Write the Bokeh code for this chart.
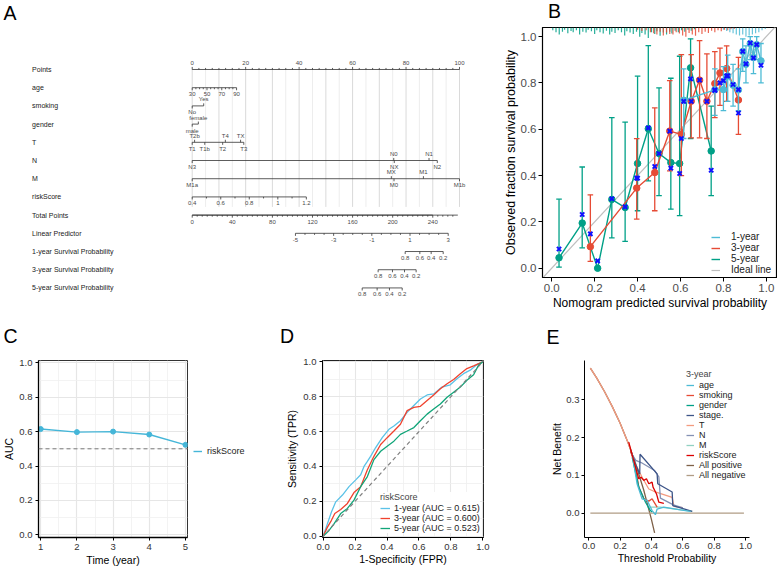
import math
from bokeh.plotting import figure
from bokeh.layouts import row, column
from bokeh.models import (Range1d, Legend, LegendItem, Slope, Span,
                          FixedTicker, NumeralTickFormatter)
from bokeh.core.properties import value
from bokeh.embed import file_html
from bokeh.resources import INLINE

FONT = "Liberation Sans"
C1, C3, C5 = "#4DBBD5", "#E64B35", "#00A087"

# ---------------- A: nomogram ----------------
row_names = ["Points", "age", "smoking", "gender", "T", "N", "M", "riskScore",
             "Total Points", "Linear Predictor", "1-year Survival Probability",
             "3-year Survival Probability", "5-year Survival Probability"]

points_labels = [0, 20, 40, 60, 80, 100]
age_labels = [30, 50, 70, 90]
age_points = [0.0, 5.53, 11.06, 16.6]
smoking_levels = ["No", "Yes"]
smoking_points = [0.0, 4.3]
smoking_side = [1, -1]
gender_levels = ["male", "female"]
gender_points = [0.0, 2.3]
gender_side = [1, -1]
T_levels = ["T1", "T2b", "T1b", "T2", "T4", "TX", "T3"]
T_points = [0.0, 0.9, 4.7, 11.4, 12.4, 18.1, 19.3]
T_side = [1, -1, 1, 1, -1, -1, 1]
N_levels = ["N3", "N0", "NX", "N1", "N2"]
N_points = [0.0, 75.4, 75.6, 88.6, 91.7]
N_side = [1, -1, 1, -1, 1]
M_levels = ["M1a", "MX", "M0", "M1", "M1b"]
M_points = [0.0, 74.5, 75.5, 86.5, 100.0]
M_side = [1, -1, 1, -1, 1]
risk_labels = ["0.4", "0.6", "0.8", "1", "1.2"]
risk_points = [0.0, 10.68, 21.35, 32.03, 42.7]
total_labels = [0, 40, 80, 120, 160, 200, 240]
total_max = 265
lp_labels = [-5, -3, -1, 1, 3]
lp_total = [103.0, 141.1, 179.2, 217.3, 255.4]
surv_labels = [0.8, 0.6, 0.4, 0.2]
surv1_total = [212.5, 227.1, 238.4, 250.4]
surv3_total = [185.5, 199.8, 211.8, 223.4]
surv5_total = [169.6, 184.5, 196.8, 209.5]
PTS_PER_TOTAL = 90.0 / 240.0


def bare_fig(**kw):
    return figure(output_backend="svg", toolbar_location=None, **kw)


def blank_fig(width, height, xr, yr):
    p = bare_fig(width=width, height=height, x_range=Range1d(*xr), y_range=Range1d(*yr),
                 x_axis_location=None, y_axis_location=None, min_border=0,
                 min_border_left=0, min_border_right=0, min_border_top=0,
                 min_border_bottom=0)
    p.grid.visible = False
    p.outline_line_color = None
    return p


pA = blank_fig(500, 312, (-71.72, 115.34), (13.35, -3.79))

LINE_C = "#333333"
TXT_C = "#4a4a4a"
TICK = 0.14
OFF = 0.36


def seg(p, xs0, ys0, xs1, ys1, color=LINE_C, w=0.8):
    p.segment(x0=xs0, y0=ys0, x1=xs1, y1=ys1, line_color=color, line_width=w)


def txt(p, xs, ys, texts, size="6px", color=TXT_C, align="center"):
    p.text(x=xs, y=ys, text=texts, text_font=value(FONT), text_font_size=size,
           text_color=color, text_align=align, text_baseline="middle")


def nomo_row(r, xs, labels, sides, minor=(), minor_side=1):
    seg(pA, [min(xs)], [r], [max(xs)], [r])
    seg(pA, xs, [r] * len(xs), xs, [r + s * TICK for s in sides])
    if minor:
        seg(pA, list(minor), [r] * len(minor), list(minor),
            [r + minor_side * TICK * 0.6] * len(minor))
    txt(pA, xs, [r + s * OFF for s in sides], [str(l) for l in labels])


# vertical reference lines across the predictor rows
grid_major = [float(v) for v in range(0, 101, 10)]
grid_minor = [float(v) for v in range(5, 100, 10)]
pA.segment(x0=grid_minor, y0=[0] * len(grid_minor), x1=grid_minor,
           y1=[7.55] * len(grid_minor), line_color="#EDEDED", line_width=1)
pA.segment(x0=grid_major, y0=[0] * len(grid_major), x1=grid_major,
           y1=[7.55] * len(grid_major), line_color="#DADADA", line_width=1)

txt(pA, [-59.9] * len(row_names), list(range(len(row_names))), row_names,
    size="7px", color="#1a1a1a", align="left")
txt(pA, [-70.6], [-3.13], ["A"], size="19.5px", color="black", align="left")

pts_minor = [v * 2.5 for v in range(41) if (v * 2.5) % 20 != 0]
nomo_row(0, [float(v) for v in points_labels], points_labels, [-1] * 6,
         minor=pts_minor, minor_side=-1)
age_minor = [a0 + (a1 - a0) * k / 4 for a0, a1 in zip(age_points[:-1], age_points[1:])
             for k in (1, 2, 3)]
nomo_row(1, age_points, age_labels, [1] * 4, minor=age_minor, minor_side=1)
nomo_row(2, smoking_points, smoking_levels, smoking_side)
nomo_row(3, gender_points, gender_levels, gender_side)
nomo_row(4, T_points, T_levels, T_side)
nomo_row(5, N_points, N_levels, N_side)
nomo_row(6, M_points, M_levels, M_side)
risk_minor = [(a + b) / 2 for a, b in zip(risk_points[:-1], risk_points[1:])]
nomo_row(7, risk_points, risk_labels, [1] * 5, minor=risk_minor, minor_side=1)
tot_x = [t * PTS_PER_TOTAL for t in total_labels]
tot_minor = [t * PTS_PER_TOTAL for t in range(0, total_max, 5) if t % 40 != 0]
seg(pA, [0.0], [8], [total_max * PTS_PER_TOTAL], [8])
nomo_row(8, tot_x, total_labels, [1] * len(tot_x), minor=tot_minor, minor_side=1)
lp_x = [t * PTS_PER_TOTAL for t in lp_total]
lp_half = [(a + b) / 2 for a, b in zip(lp_x[:-1], lp_x[1:])]
lp_minor = lp_half + [(a + m) / 2 for a, m in zip(lp_x[:-1], lp_half)] + \
    [(m + b) / 2 for m, b in zip(lp_half, lp_x[1:])]
nomo_row(9, lp_x, lp_labels, [1] * 5, minor=lp_minor, minor_side=1)
for r, tot in ((10, surv1_total), (11, surv3_total), (12, surv5_total)):
    nomo_row(r, [t * PTS_PER_TOTAL for t in tot], surv_labels, [1] * 4)


# ---------------- shared styling ----------------
def style_axes(p, size, color="#4d4d4d", xt=None, yt=None, tick=3, xfmt=True):
    for ax in (p.xaxis[0], p.yaxis[0]):
        ax.major_label_text_font = FONT
        ax.major_label_text_font_size = size
        ax.major_label_text_color = color
        ax.major_tick_in = 0
        ax.major_tick_out = tick
        ax.minor_tick_line_color = None
        ax.axis_line_color = "black"
        ax.major_tick_line_color = "black"
        ax.major_label_standoff = 2
        ax.axis_label_text_font = FONT
        ax.axis_label_text_font_style = "normal"
        ax.axis_label_text_color = "black"
    p.yaxis[0].formatter = NumeralTickFormatter(format="0.0")
    if xfmt:
        p.xaxis[0].formatter = NumeralTickFormatter(format="0.0")
    if xt is not None:
        p.xaxis[0].ticker = xt
    if yt is not None:
        p.yaxis[0].ticker = yt


def axis_titles(p, xlab, ylab, size, xs, ys, ysize=None):
    p.xaxis[0].axis_label = xlab
    p.yaxis[0].axis_label = ylab
    p.xaxis[0].axis_label_text_font_size = size
    p.yaxis[0].axis_label_text_font_size = ysize or size
    p.xaxis[0].axis_label_standoff = xs
    p.yaxis[0].axis_label_standoff = ys


def legend(items, loc, size="9px", title=None, gw=9, lh=10, spacing=0, standoff=5,
           bg=None):
    kw = dict(items=items, location=loc, label_text_font=FONT, label_text_font_size=size,
              label_text_color="#222222", glyph_width=gw, glyph_height=lh,
              label_height=lh, padding=0, margin=0, spacing=spacing,
              label_standoff=standoff, border_line_color=None)
    if bg:
        kw["background_fill_color"] = bg
    else:
        kw["background_fill_alpha"] = 0
    if title:
        kw.update(title=title, title_text_font=FONT, title_text_font_size=size,
                  title_text_font_style="normal", title_standoff=1)
    return Legend(**kw)


# strips holding the panel letters
stripB = blank_fig(277, 26, (0, 277), (26, 0))
txt(stripB, [6.5], [10.3], ["B"], size="19.5px", color="black", align="left")
stripCDE = blank_fig(777, 40, (0, 777), (40, 0))
txt(stripCDE, [3.0, 279.5, 546.0], [23.0, 23.5, 24.5], ["C", "D", "E"],
    size="19.5px", color="black", align="left")

# ---------------- B: calibration ----------------
cal1_x = [0.615, 0.760, 0.800, 0.820, 0.845, 0.870, 0.890, 0.905, 0.925, 0.940, 0.955, 0.975]
cal1_y = [0.725, 0.770, 0.771, 0.830, 0.790, 0.770, 0.935, 0.880, 0.970, 0.910, 0.965, 0.895]
cal1_lo = [0.560, 0.660, 0.680, 0.720, 0.700, 0.680, 0.850, 0.800, 0.900, 0.840, 0.900, 0.800]
cal1_hi = [0.860, 0.860, 0.870, 0.920, 0.880, 0.860, 0.990, 0.960, 1.000, 0.970, 1.000, 0.970]
cal1_bc = [0.720, 0.767, 0.810, 0.830, 0.793, 0.771, 0.936, 0.882, 0.972, 0.908, 0.965, 0.876]

cal3_x = [0.180, 0.396, 0.480, 0.550, 0.604, 0.650, 0.689, 0.723, 0.760, 0.784, 0.815, 0.870]
cal3_y = [0.093, 0.346, 0.413, 0.592, 0.578, 0.721, 0.812, 0.721, 0.797, 0.843, 0.862, 0.726]
cal3_lo = [0.030, 0.212, 0.248, 0.420, 0.400, 0.563, 0.563, 0.560, 0.650, 0.703, 0.720, 0.578]
cal3_hi = [0.317, 0.559, 0.692, 0.810, 0.922, 0.922, 0.982, 0.925, 0.935, 0.950, 0.960, 0.910]
cal3_bc = [0.148, 0.389, 0.439, 0.592, 0.560, 0.720, 0.812, 0.720, 0.770, 0.800, 0.830, 0.670]

cal5_x = [0.034, 0.142, 0.214, 0.280, 0.342, 0.400, 0.450, 0.500, 0.555, 0.596, 0.647, 0.743]
cal5_y = [0.045, 0.195, 0.000, 0.297, 0.262, 0.452, 0.602, 0.495, 0.456, 0.452, 0.865, 0.506]
cal5_lo = [0.005, 0.088, 0.000, 0.131, 0.116, 0.248, 0.377, 0.313, 0.255, 0.227, 0.560, 0.313]
cal5_hi = [0.298, 0.437, 0.000, 0.650, 0.631, 0.829, 0.961, 0.778, 0.820, 0.915, 0.990, 0.700]
cal5_bc = [0.083, 0.232, 0.032, 0.300, 0.265, 0.389, 0.606, 0.495, 0.432, 0.409, 0.817, 0.423]

ideal_x = [-0.05, 1.06]
ideal_y = [-0.05, 1.06]

rug5_x = [0.005, 0.02, 0.035, 0.05, 0.06, 0.075, 0.09, 0.10, 0.115, 0.13, 0.145, 0.16,
          0.17, 0.185, 0.20, 0.21, 0.225, 0.24, 0.255, 0.27, 0.28, 0.295, 0.31, 0.325,
          0.34, 0.35, 0.365, 0.38, 0.395, 0.41, 0.42, 0.435, 0.45, 0.465, 0.48, 0.49,
          0.505, 0.52, 0.535, 0.55, 0.56, 0.575, 0.59, 0.605, 0.62, 0.635, 0.65, 0.665]
rug5_h = [0.012, 0.02, 0.03, 0.018, 0.01, 0.025, 0.015, 0.02, 0.012, 0.03, 0.018, 0.022,
          0.01, 0.016, 0.028, 0.012, 0.02, 0.026, 0.014, 0.03, 0.018, 0.024, 0.012, 0.02,
          0.034, 0.016, 0.022, 0.028, 0.018, 0.04, 0.024, 0.03, 0.045, 0.02, 0.028, 0.016,
          0.036, 0.022, 0.03, 0.018, 0.026, 0.014, 0.02, 0.012, 0.018, 0.01, 0.014, 0.008]
rug3_x = [0.40, 0.42, 0.44, 0.46, 0.475, 0.49, 0.505, 0.52, 0.535, 0.55, 0.565, 0.58,
          0.595, 0.61, 0.625, 0.64, 0.655, 0.67, 0.685, 0.70, 0.715, 0.73, 0.745, 0.76,
          0.775, 0.79, 0.805, 0.82, 0.835, 0.85]
rug3_h = [0.01, 0.015, 0.012, 0.02, 0.025, 0.03, 0.018, 0.035, 0.022, 0.028, 0.03, 0.02,
          0.026, 0.034, 0.04, 0.024, 0.03, 0.036, 0.02, 0.028, 0.018, 0.024, 0.014, 0.02,
          0.012, 0.016, 0.01, 0.012, 0.008, 0.006]
rug1_x = [0.80, 0.815, 0.83, 0.845, 0.86, 0.875, 0.89, 0.905, 0.92, 0.935, 0.95, 0.965,
          0.98, 0.995]
rug1_h = [0.01, 0.015, 0.02, 0.025, 0.03, 0.035, 0.03, 0.04, 0.035, 0.03, 0.025, 0.02,
          0.012, 0.006]

B_TOP = 1.039
pB = bare_fig(width=277, height=286, x_range=Range1d(-0.043, 1.052),
              y_range=Range1d(-0.040, B_TOP), min_border_left=40, min_border_right=0,
              min_border_top=1, min_border_bottom=35)
pB.grid.visible = False
pB.outline_line_color = "black"
pB.outline_line_width = 1.2
tk = [0, 0.2, 0.4, 0.6, 0.8, 1.0]
style_axes(pB, "11.5px", xt=FixedTicker(ticks=tk), yt=FixedTicker(ticks=tk), tick=4)
axis_titles(pB, "Nomogram predicted survival probability",
            "Observed fraction survival probability", "12px", 1, 0, ysize="12.5px")
ideal = pB.line(ideal_x, ideal_y, line_color="#BEBEBE", line_width=1.2)

for rx, rh, col in ((rug5_x, rug5_h, C5), (rug3_x, rug3_h, C3), (rug1_x, rug1_h, C1)):
    pB.segment(x0=rx, y0=[B_TOP] * len(rx), x1=rx, y1=[B_TOP - h for h in rh],
               line_color=col, line_width=1.2, line_alpha=0.85)

CAP = 0.013
cal_lines = {}
for name, xs, ys, lo, hi, col in (
        ("5-year", cal5_x, cal5_y, cal5_lo, cal5_hi, C5),
        ("3-year", cal3_x, cal3_y, cal3_lo, cal3_hi, C3),
        ("1-year", cal1_x, cal1_y, cal1_lo, cal1_hi, C1)):
    pB.segment(x0=xs, y0=lo, x1=xs, y1=hi, line_color=col, line_width=1.3)
    pB.segment(x0=[x - CAP for x in xs], y0=hi, x1=[x + CAP for x in xs], y1=hi,
               line_color=col, line_width=1.3)
    pB.segment(x0=[x - CAP for x in xs], y0=lo, x1=[x + CAP for x in xs], y1=lo,
               line_color=col, line_width=1.3)
    cal_lines[name] = pB.line(xs, ys, line_color=col, line_width=1.4)
    pB.scatter(xs, ys, size=6.5, color=col)
for xs, bc in ((cal5_x, cal5_bc), (cal3_x, cal3_bc), (cal1_x, cal1_bc)):
    pB.scatter(xs, bc, marker="x", size=6, line_color="#1010FF", line_width=2)

pB.add_layout(legend([LegendItem(label="1-year", renderers=[cal_lines["1-year"]]),
                      LegendItem(label="3-year", renderers=[cal_lines["3-year"]]),
                      LegendItem(label="5-year", renderers=[cal_lines["5-year"]]),
                      LegendItem(label="Ideal line", renderers=[ideal])],
                     (169, 2), size="10px", gw=9, lh=10, spacing=-1, standoff=11))

# ---------------- C: time-dependent AUC ----------------
years = [1, 2, 3, 4, 5]
auc = [0.615, 0.597, 0.600, 0.583, 0.523]
AUC_C = "#45B6D8"
ROW2_H = 216
ROW2_TOP = 8

pC = bare_fig(width=190, height=ROW2_H, x_range=Range1d(0.938, 5.057),
              y_range=Range1d(-0.0157, 1.0134), min_border_left=35,
              min_border_right=3, min_border_top=ROW2_TOP, min_border_bottom=31)
style_axes(pC, "9.5px", color="#333333", xfmt=False,
           xt=FixedTicker(ticks=years, minor_ticks=[1.5, 2.5, 3.5, 4.5]),
           yt=FixedTicker(ticks=tk, minor_ticks=[0.1, 0.3, 0.5, 0.7, 0.9]))
axis_titles(pC, "Time (year)", "AUC", "10.5px", 1, 1)
pC.outline_line_color = "#333333"
pC.xaxis[0].axis_line_width = 1.3
pC.yaxis[0].axis_line_width = 1.3
for g in (pC.xgrid[0], pC.ygrid[0]):
    g.grid_line_color = "#E6E6E6"
    g.grid_line_width = 1.2
    g.minor_grid_line_color = "#F0F0F0"
    g.minor_grid_line_width = 0.8
pC.add_layout(Span(location=0.5, dimension="width", line_color="#777777",
                   line_dash="4 3", line_width=1))
pC.line(years, auc, line_color=AUC_C, line_width=1.4)
pC.scatter(years, auc, size=5, color=AUC_C)

# key for panel C, set beside the plot box (the key's line sits outside the view)
pCL = blank_fig(70, ROW2_H, (0, 1), (0, 1))
key_line = pCL.line([2, 3], [2, 3], line_color=AUC_C, line_width=1.4)
pCL.add_layout(legend([LegendItem(label="riskScore", renderers=[key_line])],
                      (3, 112), gw=9, standoff=5))

# ---------------- D: ROC curves ----------------
roc1_fpr = [0, 0.027, 0.052, 0.079, 0.121, 0.162, 0.204, 0.235, 0.256, 0.277, 0.297, 0.328,
            0.370, 0.412, 0.443, 0.484, 0.526, 0.568, 0.609, 0.651, 0.692, 0.744, 0.796,
            0.838, 0.879, 0.921, 0.963, 1.0]
roc1_tpr = [0, 0.072, 0.139, 0.197, 0.236, 0.284, 0.323, 0.352, 0.400, 0.429, 0.458, 0.507,
            0.565, 0.613, 0.632, 0.662, 0.710, 0.749, 0.787, 0.810, 0.816, 0.855, 0.868,
            0.903, 0.932, 0.952, 0.985, 1.0]
roc3_fpr = [0, 0.027, 0.052, 0.073, 0.110, 0.152, 0.193, 0.235, 0.277, 0.318, 0.360, 0.401,
            0.443, 0.484, 0.526, 0.568, 0.609, 0.651, 0.692, 0.734, 0.776, 0.817, 0.859,
            0.900, 0.942, 1.0]
roc3_tpr = [0, 0.052, 0.091, 0.130, 0.153, 0.188, 0.250, 0.284, 0.381, 0.458, 0.526, 0.565,
            0.603, 0.642, 0.720, 0.739, 0.745, 0.778, 0.810, 0.845, 0.874, 0.899, 0.932,
            0.961, 0.977, 1.0]
roc5_fpr = [0, 0.037, 0.069, 0.110, 0.152, 0.193, 0.235, 0.277, 0.318, 0.360, 0.401, 0.443,
            0.484, 0.526, 0.568, 0.609, 0.651, 0.692, 0.734, 0.776, 0.817, 0.859, 0.900,
            0.942, 0.973, 1.0]
roc5_tpr = [0, 0.033, 0.072, 0.130, 0.159, 0.207, 0.284, 0.342, 0.439, 0.487, 0.516, 0.545,
            0.584, 0.603, 0.623, 0.662, 0.700, 0.729, 0.758, 0.797, 0.826, 0.855, 0.894,
            0.926, 0.981, 1.0]
roc_auc = [0.615, 0.600, 0.523]

pD = bare_fig(width=260, height=ROW2_H, x_range=Range1d(-0.004, 1.004),
              y_range=Range1d(-0.0075, 1.0075), min_border_left=62,
              min_border_right=37, min_border_top=ROW2_TOP, min_border_bottom=31)
mk = [0.1, 0.3, 0.5, 0.7, 0.9]
style_axes(pD, "9.5px", color="#333333",
           xt=FixedTicker(ticks=tk, minor_ticks=mk), yt=FixedTicker(ticks=tk, minor_ticks=mk))
axis_titles(pD, "1-Specificity (FPR)", "Sensitivity (TPR)", "10.5px", 0, 2)
pD.outline_line_color = "#222222"
for g in (pD.xgrid[0], pD.ygrid[0]):
    g.grid_line_color = "#E6E6E6"
    g.grid_line_width = 1.1
    g.minor_grid_line_color = "#EFEFEF"
    g.minor_grid_line_width = 0.8
pD.add_layout(Slope(gradient=1, y_intercept=0, line_color="#808080",
                    line_dash="4 3", line_width=1.2))
r1 = pD.line(roc1_fpr, roc1_tpr, line_color="#5BC2E7", line_width=1.3)
r3 = pD.line(roc3_fpr, roc3_tpr, line_color="#F0422E", line_width=1.3)
r5 = pD.line(roc5_fpr, roc5_tpr, line_color="#11A579", line_width=1.3)
pD.add_layout(legend(
    [LegendItem(label=f"1-year (AUC = {roc_auc[0]:.3f})", renderers=[r1]),
     LegendItem(label=f"3-year (AUC = {roc_auc[1]:.3f})", renderers=[r3]),
     LegendItem(label=f"5-year (AUC = {roc_auc[2]:.3f})", renderers=[r5])],
    (58, 4), title="riskScore", gw=10, standoff=4, bg="white"))

# ---------------- E: decision curves ----------------
allpos_x = [0.01, 0.05, 0.10, 0.15, 0.20, 0.25, 0.30, 0.35, 0.40, 0.42]
allpos_y = [0.384, 0.358, 0.322, 0.282, 0.238, 0.187, 0.129, 0.062, -0.017, -0.052]
allneg_x = [0.01, 0.99]
allneg_y = [0.0, 0.0]
T_x = [0.01, 0.05, 0.10, 0.15, 0.20, 0.25, 0.266, 0.30, 0.34, 0.383, 0.415, 0.532, 0.543, 0.60]
T_y = [0.384, 0.358, 0.322, 0.282, 0.238, 0.187, 0.170, 0.128, 0.095, 0.064, 0.058, 0.042,
       0.018, 0.015]
stage_x = [0.266, 0.300, 0.325, 0.327, 0.436, 0.440, 0.532, 0.536, 0.660]
stage_y = [0.168, 0.128, 0.104, 0.156, 0.104, 0.078, 0.056, 0.020, 0.005]
N_x = [0.266, 0.300, 0.334, 0.420, 0.447, 0.457, 0.540, 0.600]
N_y = [0.162, 0.140, 0.134, 0.113, 0.096, 0.040, 0.022, 0.014]
risk_x = [0.255, 0.298, 0.319, 0.334, 0.351, 0.368, 0.383, 0.404, 0.410, 0.421, 0.432,
          0.447, 0.479]
risk_y = [0.188, 0.122, 0.091, 0.095, 0.087, 0.091, 0.078, 0.082, 0.069, 0.060, 0.051,
          0.029, 0.026]
smoking_x = [0.266, 0.298, 0.319, 0.351, 0.383, 0.404, 0.436]
smoking_y = [0.166, 0.122, 0.069, 0.038, 0.032, 0.038, 0.016]
age_x = [0.277, 0.308, 0.340, 0.372, 0.393, 0.404, 0.425, 0.436, 0.479, 0.585, 0.649]
age_y = [0.157, 0.078, 0.038, 0.034, 0.016, 0.007, -0.004, 0.011, 0.016, 0.009, 0.005]
gender_x = [0.277, 0.319, 0.362, 0.393, 0.404]
gender_y = [0.148, 0.069, 0.029, 0.007, 0.003]
Mv_x = [0.372, 0.457, 0.628, 0.660]
Mv_y = [0.016, 0.016, 0.007, 0.005]

pE = bare_fig(width=257, height=ROW2_H, x_range=Range1d(-0.0274, 1.0255),
              y_range=Range1d(-0.0643, 0.404), min_border_left=64,
              min_border_right=28, min_border_top=ROW2_TOP, min_border_bottom=31)
style_axes(pE, "9.5px", color="#333333",
           xt=FixedTicker(ticks=tk), yt=FixedTicker(ticks=[0.0, 0.1, 0.2, 0.3]))
axis_titles(pE, "Threshold Probability", "Net Benefit", "10.5px", 0, 0)
pE.grid.visible = False
pE.outline_line_color = None

rd = {}
rd["All positive"] = pE.line(allpos_x, allpos_y, line_color="#7E6148", line_width=1.3)
rd["All negative"] = pE.line(allneg_x, allneg_y, line_color="#B09C85", line_width=1.3)
rd["T"] = pE.line(T_x, T_y, line_color="#F39B7F", line_width=1.3)
rd["M"] = pE.line(Mv_x, Mv_y, line_color="#91D1C2", line_width=1.3)
rd["N"] = pE.line(N_x, N_y, line_color="#8491B4", line_width=1.3)
rd["stage."] = pE.line(stage_x, stage_y, line_color="#3C5488", line_width=1.3)
rd["smoking"] = pE.line(smoking_x, smoking_y, line_color="#E64B35", line_width=1.3)
rd["gender"] = pE.line(gender_x, gender_y, line_color="#00A087", line_width=1.3)
rd["age"] = pE.line(age_x, age_y, line_color="#4DBBD5", line_width=1.3)
rd["riskScore"] = pE.line(risk_x, risk_y, line_color="#DC0000", line_width=1.3)
order = ["age", "smoking", "gender", "stage.", "T", "N", "M", "riskScore",
         "All positive", "All negative"]
pE.add_layout(legend([LegendItem(label=k, renderers=[rd[k]]) for k in order],
                     (102, 57), title="3-year", gw=8, standoff=5))

layout = column(row(column(pA), column(stripB, pB)),
                column(stripCDE,
                       row(column(pC), column(pCL), column(pD), column(pE))))
open("out.html", "w").write(file_html(layout, INLINE))
